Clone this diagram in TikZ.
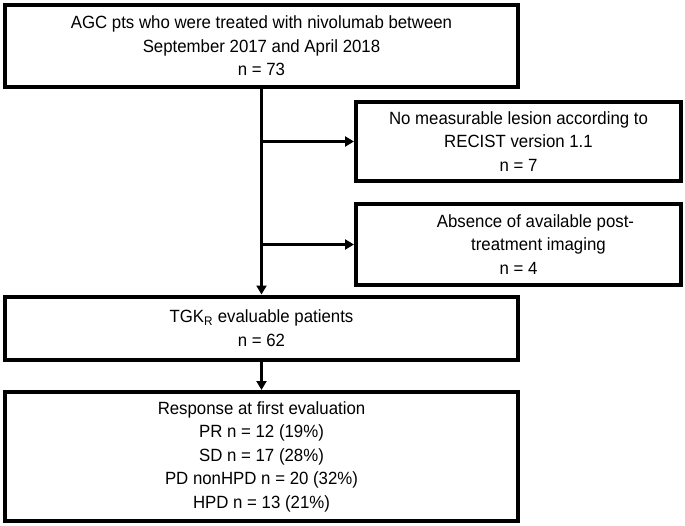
\documentclass[tikz,border=0pt]{standalone}
\usepackage{fontspec}
\setmainfont{Liberation Sans}[FakeStretch=0.95]
\usetikzlibrary{arrows.meta}

\tikzset{
	flowbox/.style={draw, line width=4pt, align=center, inner sep=0pt,
		font=\fontsize{17.7}{23.5}\selectfont},
	flowarrow/.style={line width=3pt, -{Triangle[length=9pt,width=10pt]}}
}

\begin{document}
\begin{tikzpicture}[x=1pt, y=-1pt]
	\useasboundingbox (0,0) rectangle (685,525);

	\node[flowbox, minimum width=513, minimum height=82] (cohort) at (261.5,46) {AGC pts who were treated with nivolumab between\\ September 2017 and April 2018\\ n = 73};

	\node[flowbox, minimum width=325, minimum height=79] (nolesion) at (518.5,141.5) {No measurable lesion according to\\ RECIST version 1.1\\ n = 7};
	\node[flowbox, minimum width=325, minimum height=81] (noimaging) at (518.5,244.5) {\hspace*{34pt}Absence of available post-\\ \hspace*{40pt}treatment imaging\\ n = 4};

	\node[flowbox, minimum width=513, minimum height=63] (evaluable) at (261.5,328) {TGK\textsubscript{R} evaluable patients\\ n = 62};
	\node[flowbox, minimum width=513, minimum height=129] (response) at (261.5,456.5) {Response at first evaluation\\ PR n = 12 (19\%)\\ SD n = 17 (28\%)\\ PD nonHPD n = 20 (32\%)\\ HPD n = 13 (21\%)};

	% main line down
	\draw[flowarrow] (cohort.south) -- (evaluable.north);
	\draw[flowarrow] (evaluable.south) -- (response.north);

	% exclusions
	\coordinate (split1) at (cohort.south |- nolesion.west);
	\coordinate (split2) at (cohort.south |- noimaging.west);
	\draw[flowarrow] (split1) -- (nolesion.west);
	\draw[flowarrow] (split2) -- (noimaging.west);
\end{tikzpicture}
\end{document}
